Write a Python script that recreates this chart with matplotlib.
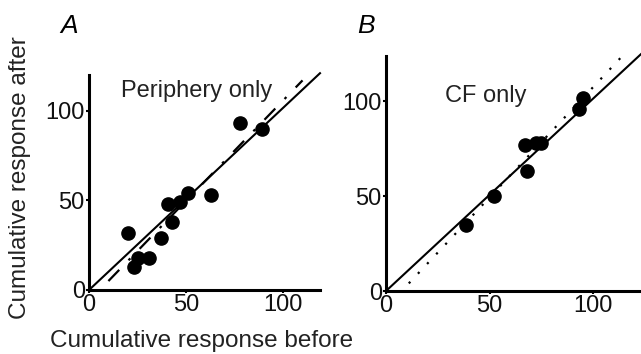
import numpy as np
import matplotlib.pyplot as plt

plt.rcParams['font.family'] = ['Liberation Sans', 'DejaVu Sans']

# panel A: periphery only
a_before = [20, 23, 25, 31, 37, 40.5, 43, 47, 51, 63, 78, 89]
a_after = [32, 13, 18, 18, 29, 48, 38, 49, 54, 53, 93, 90]
a_fit = (1.12, -6.2)   # dash-dot regression line
a_fit_x = [10, 110]

# panel B: CF only
b_before = [38.6, 52, 67, 68, 72.5, 75, 93, 95]
b_after = [35, 50, 77, 63.5, 78, 78, 96, 102]
b_fit = (1.165, -8.8)  # dotted regression line
b_fit_x = [11, 114]

fig = plt.figure(figsize=(6.41, 3.54), dpi=100)
W, H = 641, 354

def make_ax(l, r, b, t):
    return fig.add_axes([l / W, 1 - b / H, (r - l) / W, (b - t) / H])

axA = make_ax(89, 320, 290, 75)
axB = make_ax(386, 641, 291, 56)

def style(ax, xmax, ymax):
    ax.set_xlim(0, xmax)
    ax.set_ylim(0, ymax)
    ax.set_xticks([0, 50, 100])
    ax.set_yticks([0, 50, 100])
    for s in ['top', 'right']:
        ax.spines[s].set_visible(False)
    for s in ['left', 'bottom']:
        ax.spines[s].set_linewidth(2.2)
    ax.tick_params(length=2, width=1.5, labelsize=17, pad=1, labelcolor='#111111')

style(axA, 119, 120)
style(axB, 123, 124)

# identity lines
axA.plot([0, 119], [0, 121], color='black', lw=1.5, clip_on=False)
axB.plot([0, 123], [0, 125], color='black', lw=1.5, clip_on=False)

xa = np.array(a_fit_x)
axA.plot(xa, a_fit[0] * xa + a_fit[1], color='black', lw=1.6,
         dashes=(7, 6, 1.2, 6), clip_on=False)
xb = np.array(b_fit_x)
axB.plot(xb, b_fit[0] * xb + b_fit[1], color='black', lw=1.6,
         linestyle=(0, (1, 5)), clip_on=False)

axA.plot(a_before, a_after, 'o', color='black', ms=9.5, clip_on=False)
axB.plot(b_before, b_after, 'o', color='black', ms=9.5, clip_on=False)

axA.text(0.465, 0.975, 'Periphery only', transform=axA.transAxes,
         ha='center', va='top', fontsize=17, color='#222222')
axB.text(0.39, 0.875, 'CF only', transform=axB.transAxes,
         ha='center', va='top', fontsize=17, color='#222222')

fig.text(69 / W, 1 - 26 / H, 'A', fontsize=19, style='italic', ha='center', va='center')
fig.text(366 / W, 1 - 26 / H, 'B', fontsize=19, style='italic', ha='center', va='center')

fig.text(202 / W, 1 - 341 / H, 'Cumulative response before', fontsize=17.5,
         ha='center', va='center', color='#222222')
fig.text(20 / W, 1 - 178 / H, 'Cumulative response after', fontsize=17.5,
         ha='center', va='center', rotation=90, color='#222222')

fig.savefig('out.png', dpi=100)
